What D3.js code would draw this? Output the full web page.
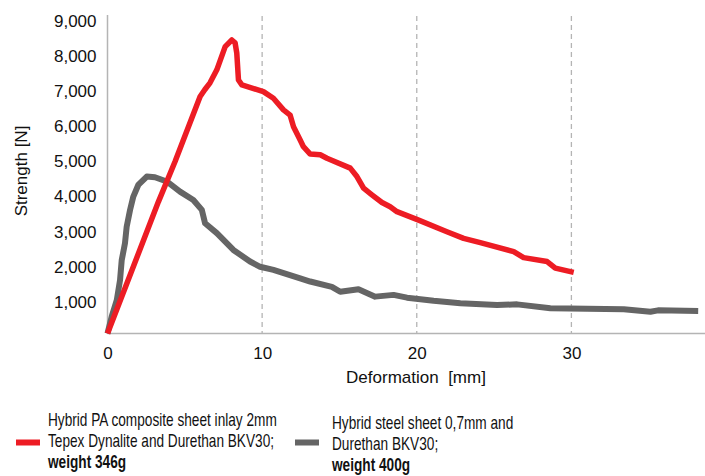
<!DOCTYPE html>
<html>
<head>
<meta charset="utf-8">
<script src="https://cdn.jsdelivr.net/npm/d3@7"></script>
<style>
  body { margin: 0; background: #fff; }
  svg text { font-family: "Liberation Sans", Arial, sans-serif; fill: #111; }
</style>
</head>
<body>
<div id="chart"></div>
<script>
// deformation [mm] / strength [N]
var compositeX = [0, 3.29, 4.37, 5.99, 6.3, 6.63, 7.07, 7.61, 8.04, 8.25, 8.36, 8.47, 8.69,
  10.08, 10.73, 11.38, 11.81, 12.03, 12.46, 12.67, 13.11, 13.76, 14.19, 15.7, 16.13, 16.56,
  17.1, 17.75, 18.28, 18.72, 20.12, 21.95, 23.03, 24.11, 26.27, 26.91, 28.43, 28.96, 30.15];
var compositeY = [0, 3750, 4900, 6750, 6950, 7140, 7510, 8170, 8360, 8280, 7990, 7220, 7080,
  6890, 6700, 6370, 6220, 5890, 5510, 5320, 5110, 5090, 4990, 4710, 4470, 4140,
  3950, 3730, 3610, 3470, 3230, 2900, 2710, 2590, 2330, 2160, 2050, 1860, 1740];

var steelX = [0, 0.27, 0.6, 0.81, 0.92, 1.13, 1.24, 1.46, 1.67, 1.99, 2.54, 3.07, 3.83, 4.69,
  5.55, 6.1, 6.31, 7.07, 8.14, 9.22, 9.87, 10.73, 12.46, 13.11, 14.51, 15.05, 16.23, 17.31,
  18.5, 19.37, 21.09, 22.82, 25.19, 26.49, 28.64, 33.39, 35.11, 35.6, 38.2];
var steelY = [0, 480, 950, 1520, 2090, 2570, 3040, 3520, 3900, 4230, 4470, 4450, 4330, 4040,
  3800, 3520, 3140, 2860, 2380, 2050, 1900, 1810, 1570, 1480, 1330, 1190, 1260, 1050,
  1100, 1020, 930, 860, 810, 830, 720, 690, 620, 660, 640];

var xTicks = [0, 10, 20, 30];
var yTicks = [1000, 2000, 3000, 4000, 5000, 6000, 7000, 8000, 9000];

var legendLines = [
  ["Hybrid PA composite sheet inlay 2mm", "Tepex Dynalite and Durethan BKV30;", "weight 346g"],
  ["Hybrid steel sheet 0,7mm and", "Durethan BKV30;", "weight 400g"]
];

var red = "#ed1c24", grey = "#656565";

var width = 705, height = 476;
var svg = d3.select("#chart").append("svg")
  .attr("width", width).attr("height", height);

var x = d3.scaleLinear().domain([0, 38.64]).range([107.5, 705]);
var y = d3.scaleLinear().domain([0, 9000]).range([333.5, 17.5]);

// dashed verticals
svg.append("g").selectAll("line")
  .data(xTicks.slice(1))
  .join("line")
  .attr("x1", d => x(d)).attr("x2", d => x(d))
  .attr("y1", 16).attr("y2", y(0))
  .attr("stroke", "#b4b4b4").attr("stroke-width", 1.3)
  .attr("stroke-dasharray", "5,4");

// axis lines
svg.append("line")
  .attr("x1", x(0)).attr("x2", x(0)).attr("y1", 15).attr("y2", y(0))
  .attr("stroke", "#b4b4b4").attr("stroke-width", 1.5);
svg.append("line")
  .attr("x1", x(0)).attr("x2", width).attr("y1", y(0)).attr("y2", y(0))
  .attr("stroke", "#b4b4b4").attr("stroke-width", 1.5);

var yAxis = svg.append("g")
  .attr("transform", "translate(" + x(0) + ",0)")
  .call(d3.axisLeft(y).tickValues(yTicks).tickSize(0).tickPadding(11)
    .tickFormat(d3.format(",")));
yAxis.select(".domain").remove();
yAxis.selectAll("text").attr("font-size", 17).attr("dy", "0.52em")
  .style("font-family", "Liberation Sans, Arial, sans-serif").attr("fill", "#111");

var xAxis = svg.append("g")
  .attr("transform", "translate(0," + y(0) + ")")
  .call(d3.axisBottom(x).tickValues(xTicks).tickSize(0).tickPadding(13));
xAxis.select(".domain").remove();
xAxis.selectAll("text").attr("font-size", 17)
  .style("font-family", "Liberation Sans, Arial, sans-serif").attr("fill", "#111");

svg.append("text")
  .attr("x", 416).attr("y", 383)
  .attr("text-anchor", "middle").attr("font-size", 17)
  .text("Deformation\u00a0 [mm]");

svg.append("text")
  .attr("transform", "translate(27,171) rotate(-90)")
  .attr("text-anchor", "middle").attr("font-size", 17)
  .text("Strength [N]");

// curves
var line = d3.line().x(d => x(d[0])).y(d => y(d[1]));

svg.append("path")
  .datum(d3.zip(steelX, steelY))
  .attr("d", line)
  .attr("fill", "none").attr("stroke", grey).attr("stroke-width", 6)
  .attr("stroke-linejoin", "round");

svg.append("path")
  .datum(d3.zip(compositeX, compositeY))
  .attr("d", line)
  .attr("fill", "none").attr("stroke", red).attr("stroke-width", 5.5)
  .attr("stroke-linejoin", "round");

// legend (narrow face faked by squeezing the regular one)
var legend = svg.append("g");
var legendPos = [{sx: 16, tx: 48, y: 426.5, c: red}, {sx: 295, tx: 332, y: 429, c: grey}];

legendPos.forEach(function(p, i) {
  legend.append("rect")
    .attr("x", p.sx).attr("y", 439.5).attr("width", 24).attr("height", 6)
    .attr("fill", p.c);
  legend.append("g")
    .attr("transform", "translate(" + p.tx + ",0) scale(0.78,1)")
    .selectAll("text")
    .data(legendLines[i])
    .join("text")
    .attr("x", 0)
    .attr("y", (d, j) => p.y + j * 20.8)
    .attr("font-size", 17.5)
    .attr("font-weight", (d, j) => j == 2 ? "bold" : null)
    .text(d => d);
});
</script>
</body>
</html>
